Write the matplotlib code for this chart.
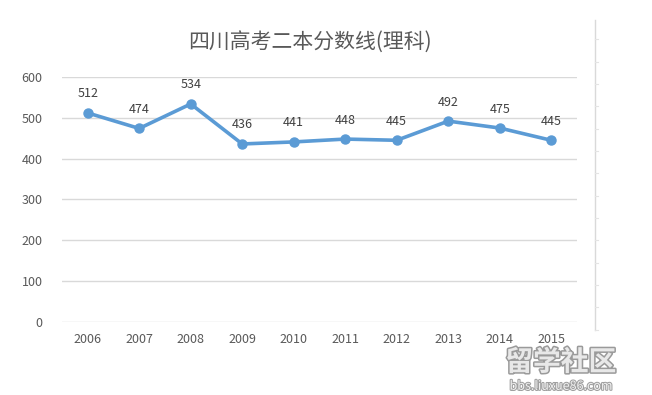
import matplotlib
matplotlib.use('Agg')
import matplotlib.pyplot as plt
from matplotlib.lines import Line2D
import matplotlib.patheffects as pe

plt.rcParams['font.family'] = ['Noto Sans CJK SC', 'DejaVu Sans']

years = ['2006', '2007', '2008', '2009', '2010', '2011', '2012', '2013', '2014', '2015']
scores = [512, 474, 534, 436, 441, 448, 445, 492, 475, 445]
y_ticks = [0, 100, 200, 300, 400, 500, 600]

LINE = '#5B9BD5'
TXT = '#595959'

fig = plt.figure(figsize=(6.52, 3.95), dpi=100)
ax = fig.add_axes([0.095, 0.185, 0.79, 0.62])

x = list(range(len(years)))
ax.plot(x, scores, '-o', color=LINE, linewidth=2.6, markersize=6.5, clip_on=False, zorder=3)
for xi, v in zip(x, scores):
    ax.annotate(str(v), (xi, v), xytext=(0, 9), textcoords='offset points',
                ha='center', va='bottom', fontsize=9, color='#404040')

ax.set_xlim(-0.5, len(years) - 0.5)
ax.set_ylim(0, 600)
ax.set_yticks(y_ticks)
ax.set_xticks(x)
ax.set_xticklabels(years)
ax.grid(axis='y', color='#D9D9D9', linewidth=1)
ax.set_axisbelow(True)
for s in ax.spines.values():
    s.set_visible(False)
ax.tick_params(length=0, labelsize=9, colors=TXT, pad=8)
ax.tick_params(axis='y', pad=14)

fig.text(0.475, 0.892, '四川高考二本分数线(理科)', ha='center', va='center',
         fontsize=15, color=TXT)

# right border line of the chart frame
fig.add_artist(Line2D([0.912, 0.912], [0.165, 0.95], color='#D9D9D9', linewidth=1))
for k in range(14):
    yy = 0.165 + k * 0.0566
    fig.add_artist(Line2D([0.912, 0.917], [yy, yy], color='#E4E4E4', linewidth=0.8))

# watermark
wm = fig.text(0.86, 0.082, '留学社区', fontsize=20, color='#E8E8E8', fontweight='bold',
              ha='center', va='center')
wm.set_path_effects([pe.withStroke(linewidth=2.2, foreground='#9A9A9A')])
wm2 = fig.text(0.86, 0.022, 'bbs.liuxue86.com', fontsize=9, color='#F0F0F0',
               ha='center', va='center')
wm2.set_path_effects([pe.withStroke(linewidth=1.5, foreground='#A0A0A0')])

fig.savefig('out.png', dpi=100)
